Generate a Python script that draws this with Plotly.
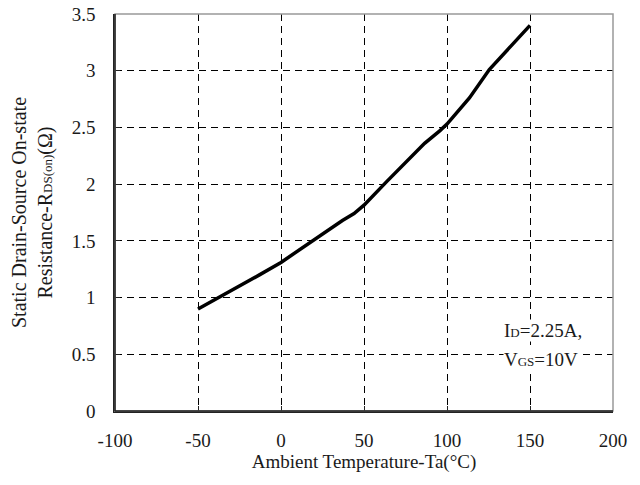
import plotly.graph_objects as go

temp_c = [-50, -25, -13, 0, 12, 24, 37, 44, 50, 63.5, 75.5, 86.5, 95.6, 100, 113.5, 125.5, 150]
rds_on = [0.90, 1.10, 1.20, 1.31, 1.43, 1.55, 1.68, 1.74, 1.815, 2.02, 2.20, 2.36, 2.47, 2.53, 2.76, 3.01, 3.40]

x_ticks = [-100, -50, 0, 50, 100, 150, 200]
y_ticks = [0, 0.5, 1, 1.5, 2, 2.5, 3, 3.5]

FONT = "Liberation Serif, Times New Roman, serif"
TXT = "#1a1a1a"

fig = go.Figure()
fig.add_trace(go.Scatter(x=temp_c, y=rds_on, mode="lines",
                         line=dict(color="black", width=3.5), showlegend=False))

small = '<span style="font-size:13px">{}</span>'
fig.add_annotation(x=133.5, y=0.71, xref="x", yref="y", xanchor="left", yanchor="middle",
                   text="I" + small.format("D") + "=2.25A,", showarrow=False,
                   font=dict(family=FONT, size=19, color=TXT), bgcolor="white", borderpad=0)
fig.add_annotation(x=133.5, y=0.45, xref="x", yref="y", xanchor="left", yanchor="middle",
                   text="V" + small.format("GS") + "=10V", showarrow=False,
                   font=dict(family=FONT, size=19, color=TXT), bgcolor="white", borderpad=0)

fig.update_layout(
    width=640, height=485,
    margin=dict(l=107, r=35, t=6, b=82, autoexpand=False),
    paper_bgcolor="white", plot_bgcolor="white",
    font=dict(family=FONT, size=19, color=TXT),
)
fig.update_xaxes(range=[-100, 200], tickvals=x_ticks, ticktext=[str(v) for v in x_ticks],
                 showgrid=True, gridcolor="black", griddash="7px,5px", gridwidth=1,
                 zeroline=False, showline=True, linecolor="#222", linewidth=1.5, mirror=False,
                 ticks="inside", ticklen=5, tickcolor="#222", automargin=False,
                 ticklabelstandoff=11, ticklabeloverflow="allow",
                 title=dict(text="Ambient Temperature-Ta(°C)", font=dict(size=19), standoff=4))
fig.update_yaxes(range=[0, 3.5], tickvals=y_ticks, ticktext=[f"{v:g}" for v in y_ticks],
                 showgrid=True, gridcolor="black", griddash="7px,5px", gridwidth=1,
                 zeroline=False, showline=True, linecolor="#222", linewidth=1.5, mirror=False,
                 ticks="inside", ticklen=5, tickcolor="#222", automargin=False,
                 ticklabelstandoff=14, ticklabeloverflow="allow",
                 title=dict(text="Static Drain-Source On-state<br>Resistance-R" + small.format("DS(on)") + "(Ω)",
                            font=dict(size=20), standoff=14))
fig.add_shape(type="rect", xref="paper", yref="paper", x0=0, y0=0, x1=1, y1=1,
              line=dict(color="#999", width=1.5), layer="above")
fig.add_shape(type="line", xref="paper", yref="paper", x0=0, y0=0, x1=0, y1=1,
              line=dict(color="#222", width=1.5), layer="above")
fig.add_shape(type="line", xref="paper", yref="paper", x0=0, y0=0, x1=1, y1=0,
              line=dict(color="#222", width=1.5), layer="above")

fig.write_html("out.html")
